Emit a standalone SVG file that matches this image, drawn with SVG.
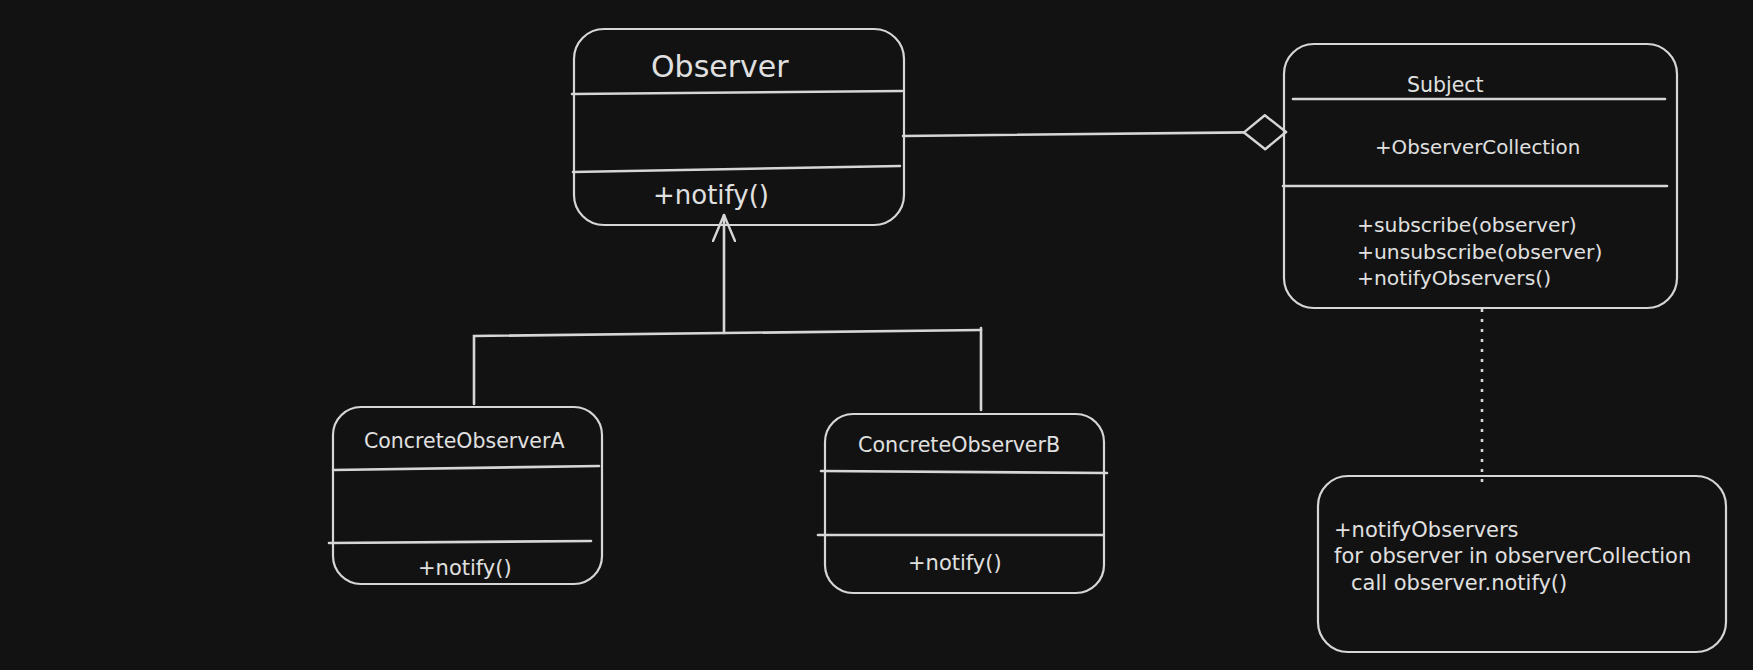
<svg xmlns="http://www.w3.org/2000/svg" width="1753" height="670" viewBox="0 0 1753 670">
  <style>
    .box { fill: none; stroke: #d6d6d6; stroke-width: 2.2; }
    .div { stroke: #d6d6d6; stroke-width: 2.6; stroke-linecap: round; }
    .con { fill: none; stroke: #d6d6d6; stroke-width: 2.6; stroke-linecap: round; }
    .dot { fill: none; stroke: #d6d6d6; stroke-width: 2.6; stroke-dasharray: 3 7; }
    .t { font-family: "DejaVu Sans", "Liberation Sans", sans-serif; fill: #e0e0e0; }
  </style>
  <defs>
    <marker id="openArrow" viewBox="0 0 28 24" refX="27" refY="12" markerWidth="28" markerHeight="24" markerUnits="userSpaceOnUse" orient="auto">
      <path d="M1,1 L27,12 L1,23" fill="none" stroke="#d6d6d6" stroke-width="2.4" stroke-linecap="round" stroke-linejoin="round"/>
    </marker>
    <marker id="hollowDiamond" viewBox="0 0 46 38" refX="44" refY="19" markerWidth="46" markerHeight="38" markerUnits="userSpaceOnUse" orient="auto">
      <path d="M2,19 L23,2 L44,19 L23,36 Z" fill="#121212" stroke="#d6d6d6" stroke-width="2.4" stroke-linejoin="round"/>
    </marker>
  </defs>
  <rect x="0" y="0" width="1753" height="670" fill="#121212"/>

  <g id="connectors">
    <line class="con" x1="903" y1="136" x2="1286" y2="132" marker-end="url(#hollowDiamond)"/>
    <line class="con" x1="724" y1="333" x2="724" y2="215" marker-end="url(#openArrow)"/>
    <path class="con" d="M474,404 L474,336 L981,330"/>
    <line class="con" x1="981" y1="328" x2="981" y2="410"/>
    <line class="dot" x1="1482" y1="309" x2="1482" y2="486"/>
  </g>

  <g id="observer">
    <rect class="box" x="574" y="29" width="330" height="196" rx="30" ry="30"/>
    <line class="div" x1="572" y1="94" x2="902" y2="91"/>
    <line class="div" x1="573" y1="172" x2="900" y2="166"/>
    <text class="t" x="651" y="77" font-size="30">Observer</text>
    <text class="t" x="653" y="204" font-size="26">+notify()</text>
  </g>

  <g id="subject">
    <rect class="box" x="1284" y="44" width="393" height="264" rx="30" ry="30"/>
    <line class="div" x1="1293" y1="99" x2="1665" y2="99"/>
    <line class="div" x1="1283" y1="186" x2="1667" y2="186"/>
    <text class="t" x="1407" y="92" font-size="20.5">Subject</text>
    <text class="t" x="1375" y="154" font-size="19.8">+ObserverCollection</text>
    <text class="t" x="1357" y="232" font-size="20.3">+subscribe(observer)</text>
    <text class="t" x="1357" y="259" font-size="20.3">+unsubscribe(observer)</text>
    <text class="t" x="1357" y="285" font-size="20.3">+notifyObservers()</text>
  </g>

  <g id="concreteObserverA">
    <rect class="box" x="333" y="407" width="269" height="177" rx="28" ry="28"/>
    <line class="div" x1="333" y1="470" x2="599" y2="466"/>
    <line class="div" x1="329" y1="543" x2="591" y2="541"/>
    <text class="t" x="364" y="448" font-size="20.5">ConcreteObserverA</text>
    <text class="t" x="418" y="575" font-size="21">+notify()</text>
  </g>

  <g id="concreteObserverB">
    <rect class="box" x="825" y="414" width="279" height="179" rx="28" ry="28"/>
    <line class="div" x1="821" y1="471" x2="1107" y2="473"/>
    <line class="div" x1="818" y1="535" x2="1103" y2="535"/>
    <text class="t" x="858" y="452" font-size="20.7">ConcreteObserverB</text>
    <text class="t" x="908" y="570" font-size="21">+notify()</text>
  </g>

  <g id="note">
    <rect class="box" x="1318" y="476" width="408" height="176" rx="30" ry="30"/>
    <text class="t" x="1334" y="537" font-size="21">+notifyObservers</text>
    <text class="t" x="1334" y="563" font-size="21">for observer in observerCollection</text>
    <text class="t" x="1351" y="590" font-size="21">call observer.notify()</text>
  </g>
</svg>
